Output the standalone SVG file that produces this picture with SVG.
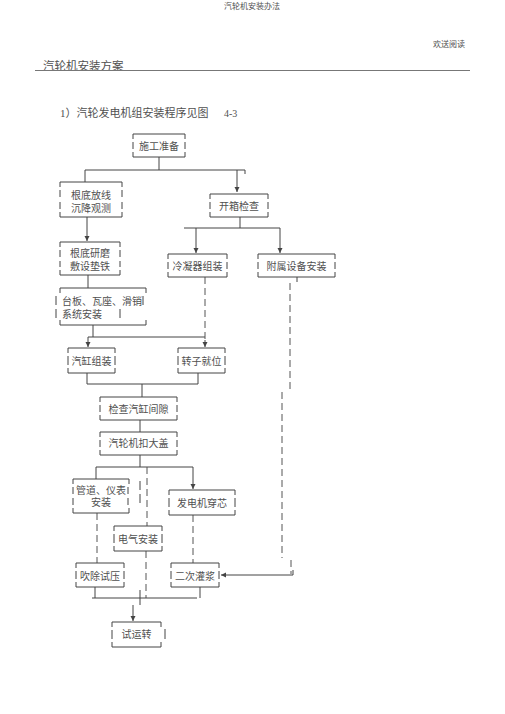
<svg xmlns="http://www.w3.org/2000/svg" width="505" height="714" viewBox="0 0 505 714">
<defs>
<marker id="ah" markerWidth="6" markerHeight="6" refX="5" refY="3" orient="auto" markerUnits="userSpaceOnUse">
<path d="M0 0.5L5 3L0 5.5Z" fill="#444"/>
</marker>
<style>
.t{font-family:"Liberation Serif","Noto Sans CJK SC",serif;fill:#505050;}
.b{font-size:10px;text-anchor:middle;}
.bl{font-size:10px;}
.box{fill:none;stroke:#444;stroke-width:1;}
.ln{fill:none;stroke:#444;stroke-width:1;}
.dl{fill:none;stroke:#555;stroke-width:1;stroke-dasharray:7 4;}
</style>
</defs>
<rect width="505" height="714" fill="#fff"/>
<g id="header">
<text class="t" x="252" y="9" font-size="8" text-anchor="middle">汽轮机安装办法</text>
<text class="t" x="465" y="47" font-size="8" text-anchor="end">欢送阅读</text>
<text class="t" x="43" y="70" font-size="11.5">汽轮机安装方案</text>
<line x1="35" y1="70.5" x2="470" y2="70.5" stroke="#777" stroke-width="1"/>
<text class="t" x="60" y="117" font-size="11">1）汽轮发电机组安装程序见图</text>
<text class="t" x="224" y="117" font-size="10">4-3</text>
</g>
<g id="connectors">
<path class="ln" d="M159 157V170M85 170H245V174M85 170V182"/>
<path class="ln" d="M237 170V192" marker-end="url(#ah)"/>
<path class="ln" d="M87 217V241" marker-end="url(#ah)"/>
<path class="ln" d="M240 217V228M184 228H280"/>
<path class="ln" d="M196 228V253" marker-end="url(#ah)"/>
<path class="ln" d="M280 228V253" marker-end="url(#ah)"/>
<path class="ln" d="M88 275V288"/>
<path class="ln" d="M93 325V337M88 337H205"/>
<path class="ln" d="M88 337V347" marker-end="url(#ah)"/>
<path class="dl" d="M205 277V340"/>
<path class="ln" d="M205 340V347" marker-end="url(#ah)"/>
<path class="ln" d="M87 373V384M198 373V384M87 384H198M142 384V397"/>
<path class="ln" d="M140 420V432"/>
<path class="ln" d="M140 455V467M96 467H193M96 467V479"/>
<path class="ln" d="M193 467V489" marker-end="url(#ah)"/>
<path class="dl" d="M147 467V526"/>
<path class="dl" d="M97 513V563"/>
<path class="dl" d="M193 515V563"/>
<path class="dl" d="M146 551V598"/>
<path class="ln" d="M297 277V282"/>
<path class="dl" d="M290 283V390M282 392V558M291 560V574"/>
<path class="ln" d="M293 575H221" marker-end="url(#ah)"/>
<path class="ln" d="M293 570V575"/>
<path class="ln" d="M95 587V598M200 587V598M92 598H197M140 590V605"/>
<path class="ln" d="M133 605V621" marker-end="url(#ah)"/>
</g>
<g id="n1"><path class="box" d="M133 139V134H185V139M133 152V157H185V152M133 142V149M185 142V149"/><text class="t b" x="159" y="149.5">施工准备</text></g>
<g id="n2"><path class="box" d="M60 187V182H122V187M60 212V217H122V212M60 190V197M60 202V209M122 190V197M122 202V209"/><text class="t b" x="91" y="198.5">根底放线</text><text class="t b" x="91" y="211.5">沉降观测</text></g>
<g id="n3"><path class="box" d="M210 199V194H268V199M210 212V217H268V212M210 202V209M268 202V209"/><text class="t b" x="239" y="209.5">开箱检查</text></g>
<g id="n4"><path class="box" d="M60 247V242H120V247M60 270V275H120V270M60 250V257M60 261V267M120 250V257M120 261V267"/><text class="t b" x="90" y="256.5">根底研磨</text><text class="t b" x="90" y="269.5">敷设垫铁</text></g>
<g id="n5"><path class="box" d="M168 259V254H227V259M168 272V277H227V272M168 262V269M227 262V269"/><text class="t b" x="197.5" y="269.5">冷凝器组装</text></g>
<g id="n6"><path class="box" d="M258 259V254H335V259M258 272V277H335V272M258 262V269M335 262V269"/><text class="t b" x="296.5" y="269.5">附属设备安装</text></g>
<g id="n7"><path class="box" d="M60 293V288H146V293M60 320V325H146V320M56 296V305M56 309V318M143 296V305M120 309V318"/><text class="t bl" x="62" y="304.5">台板、瓦座、滑销</text><text class="t bl" x="62" y="317.5">系统安装</text></g>
<g id="n8"><path class="box" d="M68 353V348H115V353M68 368V373H115V368M68 356V365M115 356V365"/><text class="t b" x="91.5" y="364.5">汽缸组装</text></g>
<g id="n9"><path class="box" d="M178 353V348H225V353M178 368V373H225V368M178 356V365M225 356V365"/><text class="t b" x="201.5" y="364.5">转子就位</text></g>
<g id="n10"><path class="box" d="M100 402V397H177V402M100 415V420H177V415M100 405V412M177 405V412"/><text class="t b" x="138.5" y="412.5">检查汽缸间隙</text></g>
<g id="n11"><path class="box" d="M100 437V432H177V437M100 450V455H177V450M100 440V447M177 440V447"/><text class="t b" x="138.5" y="446.5">汽轮机扣大盖</text></g>
<g id="n12"><path class="box" d="M73 484V479H129V484M73 508V513H129V508M73 487V494M73 498V505M128 487V494M128 498V505M140 481V490M140 494V503"/><text class="t b" x="101" y="493.5">管道、仪表</text><text class="t b" x="101" y="505.5">安装</text></g>
<g id="n13"><path class="box" d="M169 495V490H235V495M169 510V515H235V510M169 498V507M235 498V507"/><text class="t b" x="202" y="506.5">发电机穿芯</text></g>
<g id="n14"><path class="box" d="M114 531V526H162V531M114 546V551H162V546M114 534V543M162 534V543"/><text class="t b" x="138" y="542.5">电气安装</text></g>
<g id="n15"><path class="box" d="M76 568V563H124V568M76 582V587H124V582M76 571V579M124 571V579"/><text class="t b" x="100" y="579.5">吹除试压</text></g>
<g id="n16"><path class="box" d="M171 568V563H219V568M171 582V587H219V582M171 571V579M219 571V579"/><text class="t b" x="195" y="579.5">二次灌浆</text></g>
<g id="n17"><path class="box" d="M112 627V622H161V627M112 642V647H161V642M112 630V639M165 629V639"/><text class="t b" x="136.5" y="637.5">试运转</text></g>
</svg>
